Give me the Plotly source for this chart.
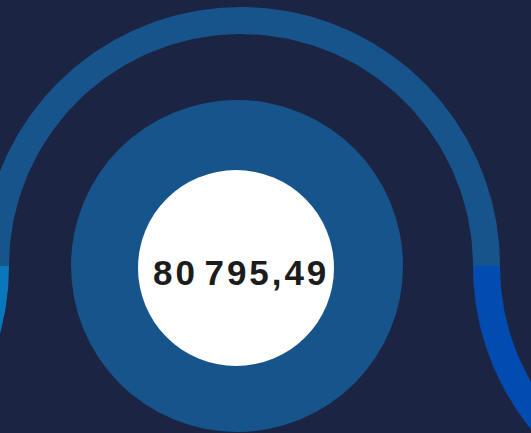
import numpy as np
import plotly.graph_objects as go

# ---- data ----
kpi_names = ["Total"]
kpi_values = [80795.49]
ring_names = ["top", "right", "left"]
ring_colors = ["#17548b", "#024bb0", "#0a77bb"]

# ---- style / geometry ----
W, H = 531, 433
BG = "#1b2543"
CY = 266
R_OUT, R_IN = 259, 232
ring_centers = [241, 732, -250]
ring_halves = ["up", "down", "down"]

def fmt(v):
    return f"{v:,.2f}".replace(",", " ").replace(".", ",")

def tracked(s):
    # emulate the card's letter spacing with hair spaces (not around the group space)
    out = s[0]
    for a, b in zip(s, s[1:]):
        out += ("" if " " in (a, b) else "\u200a") + b
    return out

fig = go.Figure()

for name, color, cx, half in zip(ring_names, ring_colors, ring_centers, ring_halves):
    t = np.linspace(0, np.pi, 181)
    sgn = -1 if half == "up" else 1
    xo = cx + R_OUT * np.cos(t)
    yo = CY + sgn * R_OUT * np.sin(t)
    xi = cx + R_IN * np.cos(t[::-1])
    yi = CY + sgn * R_IN * np.sin(t[::-1])
    fig.add_trace(go.Scatter(
        x=np.concatenate([xo, xi, xo[:1]]),
        y=np.concatenate([yo, yi, yo[:1]]),
        mode="lines", fill="toself", fillcolor=color,
        line=dict(width=0, color=color), hoverinfo="skip",
        showlegend=False, name=name,
    ))

# inner disc and white center
fig.add_shape(type="circle", xref="x", yref="y",
              x0=237 - 166, x1=237 + 166, y0=CY - 166, y1=CY + 166,
              fillcolor="#17548b", line=dict(width=0), layer="above")
fig.add_shape(type="circle", xref="x", yref="y",
              x0=236 - 98, x1=236 + 98, y0=268 - 98, y1=268 + 98,
              fillcolor="#ffffff", line=dict(width=0), layer="above")

fig.add_annotation(x=239.5, y=272, xref="x", yref="y",
                   text=f"<b>{tracked(fmt(kpi_values[0]))}</b>", showarrow=False,
                   font=dict(family="Liberation Sans, Arial, sans-serif",
                             size=35, color="#1c1c1c"),
                   xanchor="center", yanchor="middle")

fig.update_xaxes(range=[0, W], visible=False, fixedrange=True)
fig.update_yaxes(range=[H, 0], visible=False, fixedrange=True)
fig.update_layout(width=W, height=H, margin=dict(l=0, r=0, t=0, b=0),
                  paper_bgcolor=BG, plot_bgcolor=BG, showlegend=False)

fig.write_html("out.html", config={"displayModeBar": False},
               post_script="document.body.style.margin='0';document.body.style.overflow='hidden';")
